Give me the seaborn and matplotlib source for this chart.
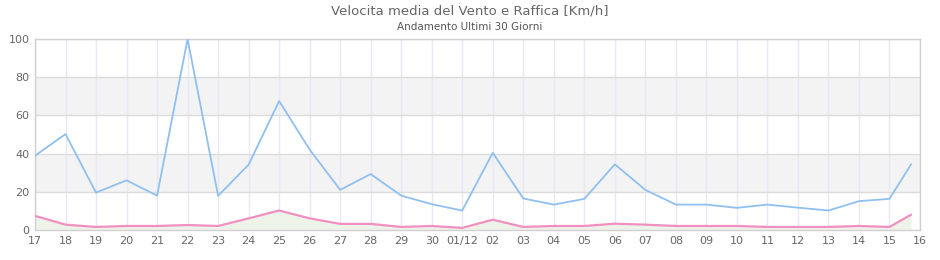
import matplotlib
matplotlib.use("Agg")
import matplotlib.pyplot as plt
import seaborn as sns
import pandas as pd
import numpy as np

# ---- data ----
dates = list(pd.date_range("2023-11-17", "2023-12-15", freq="D")) + [pd.Timestamp("2023-12-15 17:00")]
raffica = [38.9, 50.2, 19.6, 26.0, 18.0, 100.0, 17.9, 34.2, 67.5, 42.1, 21.0, 29.3, 18.0, 13.5,
           10.2, 40.4, 16.5, 13.3, 16.3, 34.4, 21.0, 13.3, 13.3, 11.6, 13.3, 11.7, 10.2, 15.1,
           16.3, 34.4]
media = [7.4, 2.8, 1.6, 2.1, 2.1, 2.6, 2.1, 6.1, 10.2, 6.1, 3.2, 3.2, 1.6, 2.1,
         1.1, 5.4, 1.6, 2.1, 2.1, 3.3, 2.8, 2.1, 2.1, 2.1, 1.6, 1.6, 1.6, 2.1,
         1.6, 8.0]
tick_dates = list(pd.date_range("2023-11-17", "2023-12-16", freq="D"))
tick_labels = ["17", "18", "19", "20", "21", "22", "23", "24", "25", "26", "27", "28", "29", "30",
               "01/12", "02", "03", "04", "05", "06", "07", "08", "09", "10", "11", "12", "13",
               "14", "15", "16"]
y_ticks = [0, 20, 40, 60, 80, 100]

df = pd.DataFrame({"data": dates, "raffica": raffica, "media": media})

sns.set_style("white")
plt.rcParams["font.family"] = ["DejaVu Sans"]

fig = plt.figure(figsize=(9.4, 2.6), dpi=100)
ax = fig.add_axes([35 / 940, 30 / 260, 885 / 940, 191 / 260])

# alternating bands
for lo, hi in [(20, 40), (60, 80)]:
    ax.axhspan(lo, hi, color="#f3f3f3", zorder=0, lw=0)

# grid
for t in tick_dates:
    ax.axvline(t, color="#e8e8f8", lw=1, zorder=0.5)
for yv in y_ticks:
    ax.axhline(yv, color="#dcdcdc", lw=1, zorder=0.6)

ax.fill_between(df["data"], df["media"], 0, color="#eef3ea", zorder=1, lw=0)
sns.lineplot(data=df, x="data", y="raffica", ax=ax, color="#90c0f0", lw=1.3, zorder=3)
sns.lineplot(data=df, x="data", y="media", ax=ax, color="#f090c0", lw=1.6, zorder=4)

ax.set_xlim(tick_dates[0], tick_dates[-1])
ax.set_ylim(0, 100)
ax.set_xticks(tick_dates)
ax.set_xticklabels(tick_labels)
ax.set_yticks(y_ticks)
ax.set_xlabel("")
ax.set_ylabel("")
ax.tick_params(axis="both", labelsize=8, colors="#666666", length=0, pad=4)
for s in ax.spines.values():
    s.set_color("#d0d0d0")
    s.set_linewidth(1)

fig.text(0.5, 1 - 11 / 260, "Velocita media del Vento e Raffica [Km/h]", ha="center", va="center",
         fontsize=9.5, color="#666666")
fig.text(0.5, 1 - 27 / 260, "Andamento Ultimi 30 Giorni", ha="center", va="center",
         fontsize=7.5, color="#555555")

fig.savefig("out.png", dpi=100)
